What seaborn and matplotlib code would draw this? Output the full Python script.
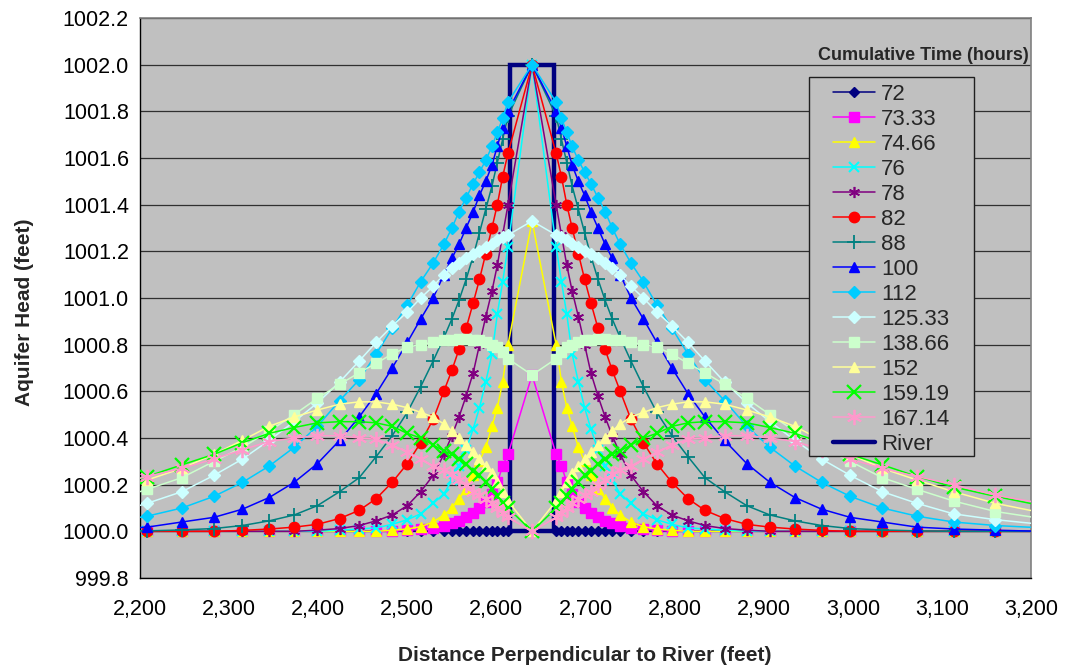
import matplotlib
matplotlib.use("Agg")
import matplotlib.pyplot as plt
from matplotlib.ticker import MultipleLocator, FormatStrFormatter, FuncFormatter
from matplotlib.patches import Rectangle
import seaborn as sns

# =============================================================================
# Data. Profile is symmetric about the river centre,
# so each series is kept as a half profile: head rise above 1000 ft at
# each distance from the centre node.
# =============================================================================
BASE = 1000.0
RIVER_CENTER = 2640

dist_from_center = [27, 33, 39, 45, 52, 59, 66, 74, 82, 90, 99, 111, 125, 140,
                    157, 175, 194, 216, 241, 267, 295, 325, 357, 393, 432, 473, 520, 572]

times = ['72', '73.33', '74.66', '76', '78', '82', '88', '100', '112',
         '125.33', '138.66', '152', '159.19', '167.14']

# head rise at the river node itself
center_rise = [0.0, 0.67, 1.33, 2.0, 2.0, 2.0, 2.0, 2.0, 2.0, 1.33, 0.67, 0.0, 0.0, 0.0]

rise_72 = [0, 0, 0, 0, 0, 0, 0, 0, 0, 0, 0, 0, 0, 0, 0, 0, 0, 0, 0, 0, 0, 0, 0, 0, 0, 0, 0, 0]
rise_73 = [0.33, 0.28, 0.21, 0.16, 0.125, 0.10, 0.08, 0.06, 0.045, 0.035, 0.025, 0.015, 0.01, 0.005,
           0, 0, 0, 0, 0, 0, 0, 0, 0, 0, 0, 0, 0, 0]
rise_74 = [0.80, 0.64, 0.53, 0.45, 0.36, 0.30, 0.24, 0.18, 0.14, 0.10, 0.07, 0.04, 0.02, 0.01,
           0.005, 0, 0, 0, 0, 0, 0, 0, 0, 0, 0, 0, 0, 0]
rise_76 = [1.22, 1.07, 0.93, 0.76, 0.64, 0.53, 0.44, 0.35, 0.28, 0.22, 0.16, 0.12, 0.075, 0.05,
           0.03, 0.015, 0.01, 0.005, 0, 0, 0, 0, 0, 0, 0, 0, 0, 0]
rise_78 = [1.40, 1.27, 1.14, 1.03, 0.92, 0.80, 0.68, 0.58, 0.49, 0.41, 0.33, 0.24, 0.17, 0.11,
           0.07, 0.045, 0.025, 0.012, 0.005, 0, 0, 0, 0, 0, 0, 0, 0, 0]
rise_82 = [1.62, 1.52, 1.40, 1.30, 1.19, 1.08, 0.98, 0.87, 0.78, 0.69, 0.60, 0.48, 0.38, 0.29,
           0.21, 0.14, 0.09, 0.055, 0.03, 0.018, 0.01, 0.004, 0, 0, 0, 0, 0, 0]
rise_88 = [1.78, 1.68, 1.58, 1.48, 1.38, 1.28, 1.18, 1.08, 0.99, 0.91, 0.83, 0.73, 0.62, 0.51,
           0.41, 0.32, 0.23, 0.17, 0.11, 0.07, 0.045, 0.025, 0.012, 0.006, 0.002, 0, 0, 0]
rise_100 = [1.80, 1.73, 1.65, 1.57, 1.50, 1.44, 1.37, 1.30, 1.23, 1.17, 1.10, 1.00, 0.91, 0.81,
            0.70, 0.59, 0.49, 0.39, 0.29, 0.21, 0.145, 0.095, 0.06, 0.04, 0.018, 0.01, 0.005, 0.0]
rise_112 = [1.84, 1.77, 1.71, 1.65, 1.59, 1.54, 1.49, 1.43, 1.37, 1.30, 1.23, 1.15, 1.07, 0.97,
            0.87, 0.76, 0.65, 0.56, 0.45, 0.36, 0.28, 0.21, 0.15, 0.10, 0.065, 0.04, 0.025, 0.015]
rise_125 = [1.27, 1.26, 1.25, 1.23, 1.22, 1.20, 1.19, 1.17, 1.15, 1.13, 1.10, 1.05, 1.00, 0.94,
            0.88, 0.81, 0.73, 0.64, 0.55, 0.47, 0.39, 0.31, 0.24, 0.17, 0.12, 0.075, 0.05, 0.03]
rise_138 = [0.74, 0.77, 0.79, 0.80, 0.81, 0.82, 0.82, 0.825, 0.825, 0.82, 0.82, 0.81, 0.80, 0.79,
            0.76, 0.72, 0.68, 0.63, 0.57, 0.50, 0.43, 0.36, 0.30, 0.23, 0.18, 0.13, 0.085, 0.055]
rise_152 = [0.13, 0.17, 0.21, 0.25, 0.28, 0.31, 0.34, 0.37, 0.40, 0.43, 0.46, 0.49, 0.51, 0.53,
            0.545, 0.555, 0.555, 0.545, 0.52, 0.49, 0.45, 0.39, 0.33, 0.27, 0.22, 0.17, 0.12, 0.08]
rise_159 = [0.10, 0.12, 0.15, 0.18, 0.21, 0.24, 0.26, 0.29, 0.31, 0.33, 0.345, 0.37, 0.40, 0.42,
            0.45, 0.465, 0.47, 0.47, 0.465, 0.445, 0.42, 0.38, 0.33, 0.285, 0.235, 0.19, 0.15, 0.11]
rise_167 = [0.06, 0.08, 0.10, 0.12, 0.14, 0.155, 0.17, 0.20, 0.22, 0.245, 0.265, 0.28, 0.31, 0.34,
            0.37, 0.395, 0.40, 0.41, 0.41, 0.40, 0.385, 0.35, 0.31, 0.27, 0.235, 0.20, 0.155, 0.12]

half_profiles = [rise_72, rise_73, rise_74, rise_76, rise_78, rise_82, rise_88, rise_100,
                 rise_112, rise_125, rise_138, rise_152, rise_159, rise_167]

# river outline
river_x = [2615, 2615, 2665, 2665, 2615]
river_y = [1000.0, 1002.0, 1002.0, 1000.0, 1000.0]

# =============================================================================
# Styles
# =============================================================================
colors = ['#000080', '#FF00FF', '#FFFF00', '#00FFFF', '#800080', '#FF0000', '#008080',
          '#0000FF', '#00CCFF', '#CCFFFF', '#CCFFCC', '#FFFF99', '#00FF00', '#FF99CC']
markers = ['D', 's', '^', 'x', (6, 2, 0), 'o', '+', '^', 'D', 'D', 's', '^', 'x', (6, 2, 0)]
msizes = [5, 6.5, 7.5, 7.5, 8, 7.5, 9.5, 7.5, 6, 6, 6.5, 7.5, 10.5, 11]
mews = [1, 1, 1, 1.5, 1.2, 1, 1.3, 1, 1, 1, 1, 1, 1.6, 1.3]

sns.set_theme(style='white')
plt.rcParams['font.family'] = ['Liberation Sans', 'DejaVu Sans']

fig = plt.figure(figsize=(10.67, 6.70), dpi=100)
ax = fig.add_axes([0.1312, 0.1373, 0.8351, 0.8358])
ax.set_facecolor('#C0C0C0')

x_full = [RIVER_CENTER - d for d in reversed(dist_from_center)] + [RIVER_CENTER] + \
         [RIVER_CENTER + d for d in dist_from_center]

for i, lab in enumerate(times):
    half = half_profiles[i]
    y_full = [BASE + v for v in reversed(half)] + [BASE + center_rise[i]] + [BASE + v for v in half]
    sns.lineplot(x=x_full, y=y_full, ax=ax, color=colors[i], linewidth=1.1,
                 marker=markers[i], markersize=msizes[i], markeredgecolor=colors[i],
                 markeredgewidth=mews[i], sort=False, estimator=None, label=lab,
                 zorder=3 + i * 0.01)

ax.plot(river_x, river_y, color='#000080', linewidth=3.2, label='River', zorder=2.9,
        solid_joinstyle='miter', solid_capstyle='round')

# axes
ax.set_xlim(2200, 3200)
ax.set_ylim(999.8, 1002.2)
ax.xaxis.set_major_locator(MultipleLocator(100))
ax.xaxis.set_minor_locator(MultipleLocator(50))
ax.yaxis.set_major_locator(MultipleLocator(0.2))
ax.yaxis.set_minor_locator(MultipleLocator(0.05))
ax.yaxis.set_major_formatter(FormatStrFormatter('%.1f'))
ax.xaxis.set_major_formatter(FuncFormatter(lambda v, p: '{:,.0f}'.format(v)))
ax.tick_params(axis='both', which='both', direction='out', colors='black',
               labelsize=15.5, width=1)
ax.tick_params(axis='x', which='both', length=5)
ax.tick_params(axis='x', which='major', pad=10)
ax.tick_params(axis='y', which='major', length=5, pad=3)
ax.tick_params(axis='y', which='minor', length=4)
ax.yaxis.grid(True, which='major', color='#303030', linewidth=0.9)
ax.xaxis.grid(False)
ax.set_axisbelow(True)

for s in ['left', 'bottom']:
    ax.spines[s].set_color('black')
    ax.spines[s].set_linewidth(1)
for s in ['top', 'right']:
    ax.spines[s].set_color('#808080')
    ax.spines[s].set_linewidth(1.2)

W, H = 1067.0, 670.0
ax_l, ax_r, ax_t, ax_b = 140.0, 1031.0, 18.0, 578.0


def to_ax(px, py):
    return (px - ax_l) / (ax_r - ax_l), (ax_b - py) / (ax_b - ax_t)


ax.set_xlabel('Distance Perpendicular to River (feet)', fontsize=15, fontweight='bold')
ax.set_ylabel('Aquifer Head (feet)', fontsize=15, fontweight='bold')
ax.xaxis.set_label_coords(*to_ax(585, 655))
ax.xaxis.label.set_va('center')
ax.yaxis.set_label_coords(*to_ax(25, 312))
ax.yaxis.label.set_va('center')

# legend with a hand-placed frame
handles, labels = ax.get_legend_handles_labels()
bx0, by0 = to_ax(809, 456)
bx1, by1 = to_ax(974, 77)
ax.add_patch(Rectangle((bx0, by0), bx1 - bx0, by1 - by0, transform=ax.transAxes,
                       facecolor='#C0C0C0', edgecolor='#202020', linewidth=1, zorder=6))
lx, ly = to_ax(833, 84)
leg = ax.legend(handles, labels, loc='upper left', bbox_to_anchor=(lx, ly),
                frameon=False, fontsize=16, handlelength=1.9, handletextpad=0.25,
                labelspacing=0.18, borderpad=0.0, borderaxespad=0.0)
leg.set_zorder(7)

tx, ty = to_ax(1029, 55)
ax.text(tx, ty, 'Cumulative Time (hours)', transform=ax.transAxes, ha='right',
        va='center', fontsize=13, fontweight='bold', zorder=7)

fig.savefig('out.png', dpi=100, facecolor='white')
